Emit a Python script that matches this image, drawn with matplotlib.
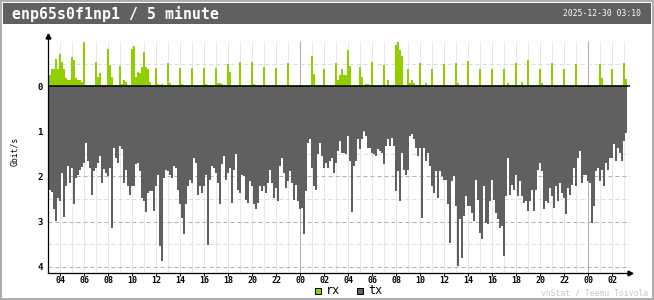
import numpy as np
import matplotlib
matplotlib.use('Agg')
import matplotlib.pyplot as plt
from matplotlib.patches import Rectangle

W, H = 654, 300

title = 'enp65s0f1np1 / 5 minute'
stamp = '2025-12-30 03:10'
credit = 'vnStat / Teemu Toivola'
unit = 'Gbit/s'
legend_names = ['rx', 'tx']

# 10 minute bins, hours counted from midnight two days before the stamp
start_hour = 3 + 5 / 60
bin_hours = 1 / 6

# Gbit/s
rx = [0.24, 0.37, 0.37, 0.61, 0.37, 0.72, 0.54, 0.37, 0.17, 0.13, 0.13, 0.65,
      0.58, 0.17, 0.13, 0.13, 0.10, 0.98, 0.02, 0.02, 0.02, 0.02, 0.02, 0.54,
      0.21, 0.28, 0.02, 0.02, 0.02, 0.83, 0.46, 0.21, 0.02, 0.02, 0.02, 0.44,
      0.04, 0.13, 0.10, 0.02, 0.02, 0.83, 0.89, 0.21, 0.32, 0.30, 0.43, 0.76,
      0.43, 0.39, 0.10, 0.02, 0.02, 0.41, 0.04, 0.02, 0.04, 0.02, 0.02, 0.52,
      0.06, 0.02, 0.02, 0.02, 0.02, 0.41, 0.04, 0.02, 0.02, 0.02, 0.02, 0.41,
      0.02, 0.02, 0.02, 0.02, 0.02, 0.41, 0.04, 0.02, 0.02, 0.02, 0.02, 0.41,
      0.06, 0.07, 0.04, 0.02, 0.02, 0.50, 0.32, 0.02, 0.02, 0.02, 0.02, 0.54,
      0.02, 0.02, 0.02, 0.02, 0.02, 0.54, 0.04, 0.02, 0.02, 0.02, 0.02, 0.43,
      0.02, 0.02, 0.02, 0.02, 0.02, 0.41, 0.02, 0.02, 0.02, 0.02, 0.02, 0.52,
      0.02, 0.02, 0.02, 0.02, 0.02, 0.02, 0.02, 0.02, 0.02, 0.02, 0.02, 0.67,
      0.27, 0.02, 0.02, 0.02, 0.02, 0.39, 0.02, 0.02, 0.02, 0.02, 0.02, 0.52,
      0.13, 0.24, 0.38, 0.24, 0.24, 0.80, 0.44, 0.02, 0.02, 0.02, 0.02, 0.43,
      0.21, 0.02, 0.04, 0.04, 0.02, 0.54, 0.02, 0.02, 0.02, 0.02, 0.02, 0.46,
      0.02, 0.13, 0.02, 0.02, 0.02, 0.91, 0.98, 0.80, 0.66, 0.02, 0.02, 0.39,
      0.06, 0.13, 0.06, 0.02, 0.02, 0.52, 0.02, 0.02, 0.07, 0.02, 0.02, 0.39,
      0.02, 0.02, 0.02, 0.02, 0.02, 0.50, 0.02, 0.02, 0.02, 0.02, 0.02, 0.52,
      0.07, 0.02, 0.02, 0.02, 0.02, 0.55, 0.02, 0.02, 0.02, 0.02, 0.02, 0.39,
      0.02, 0.02, 0.02, 0.02, 0.02, 0.39, 0.02, 0.02, 0.02, 0.02, 0.02, 0.39,
      0.02, 0.06, 0.02, 0.02, 0.02, 0.52, 0.02, 0.02, 0.10, 0.02, 0.02, 0.58,
      0.02, 0.02, 0.02, 0.02, 0.02, 0.39, 0.07, 0.02, 0.02, 0.02, 0.02, 0.52,
      0.02, 0.02, 0.02, 0.02, 0.02, 0.39, 0.02, 0.02, 0.02, 0.02, 0.02, 0.50,
      0.02, 0.02, 0.02, 0.02, 0.02, 0.02, 0.02, 0.02, 0.02, 0.02, 0.02, 0.50,
      0.17, 0.02, 0.02, 0.02, 0.02, 0.39, 0.02, 0.02, 0.02, 0.02, 0.02, 0.52,
      0.15]

tx = [2.30, 2.35, 2.73, 2.99, 2.47, 2.55, 1.92, 2.89, 2.21, 1.77, 2.14, 1.81,
      2.62, 2.03, 1.96, 1.85, 1.79, 1.70, 1.25, 1.66, 1.81, 2.40, 1.88, 1.81,
      1.70, 1.54, 2.14, 1.83, 1.93, 1.99, 1.81, 3.14, 1.37, 1.59, 1.70, 1.33,
      1.40, 2.14, 1.85, 2.21, 2.40, 2.21, 2.21, 1.73, 1.71, 1.88, 2.47, 2.55,
      2.79, 2.36, 2.32, 2.32, 2.77, 2.20, 1.96, 3.54, 3.87, 2.03, 1.85, 1.88,
      1.96, 2.03, 1.77, 1.81, 2.29, 2.62, 2.92, 3.28, 2.62, 2.21, 2.08, 2.14,
      1.59, 1.70, 2.40, 2.21, 2.36, 2.21, 1.96, 3.51, 2.07, 1.77, 1.81, 1.92,
      2.14, 2.62, 1.73, 1.55, 2.07, 1.92, 1.81, 2.58, 1.85, 1.51, 2.29, 2.36,
      1.96, 1.99, 2.51, 2.58, 2.10, 2.21, 2.62, 2.73, 2.58, 2.21, 2.32, 2.21,
      2.36, 2.14, 1.85, 2.14, 2.47, 2.25, 2.55, 1.77, 1.59, 1.92, 2.25, 2.10,
      1.88, 2.14, 2.51, 2.18, 2.55, 2.73, 2.69, 3.28, 2.32, 1.25, 1.18, 1.81,
      2.21, 2.29, 1.51, 1.25, 1.55, 1.81, 1.70, 1.81, 1.66, 1.59, 1.92, 1.70,
      1.44, 1.22, 1.48, 1.48, 1.51, 1.11, 1.66, 2.79, 1.77, 1.66, 1.18, 1.40,
      1.18, 1.00, 1.11, 1.37, 1.37, 1.48, 1.51, 1.55, 1.40, 1.44, 1.48, 1.73,
      1.33, 1.18, 1.33, 1.14, 1.33, 2.32, 1.88, 2.55, 1.48, 1.85, 1.96, 1.85,
      1.11, 1.07, 1.18, 1.37, 1.55, 1.37, 2.92, 1.37, 1.66, 1.48, 1.77, 2.21,
      2.36, 1.88, 2.47, 1.88, 1.99, 2.07, 2.07, 2.62, 3.47, 2.10, 1.99, 2.66,
      3.99, 2.95, 3.80, 2.88, 2.44, 2.66, 2.66, 2.80, 2.99, 2.07, 2.51, 3.25,
      3.39, 2.21, 3.03, 3.06, 2.55, 2.07, 2.51, 2.80, 2.95, 3.14, 3.10, 3.76,
      2.44, 1.59, 2.40, 2.18, 2.29, 1.96, 2.44, 2.10, 2.44, 2.58, 2.55, 2.77,
      2.55, 2.29, 2.77, 2.29, 1.85, 1.70, 1.88, 2.73, 2.55, 2.58, 2.25, 2.44,
      2.69, 2.21, 2.55, 2.14, 2.36, 2.47, 2.84, 2.25, 2.40, 2.18, 1.81, 2.21,
      1.59, 1.44, 2.14, 1.96, 1.96, 2.10, 2.14, 3.03, 2.66, 1.88, 1.81, 2.10,
      1.85, 2.21, 1.70, 1.85, 1.59, 1.59, 1.29, 1.66, 1.37, 1.48, 1.66, 1.22,
      1.03]

hour_ticks = np.arange(4, 51, 2)
y_ticks = [0, 1, 2, 3, 4]

rx_color = '#92cf00'
tx_color = '#606060'
mono = 'DejaVu Sans Mono'


def fx(px):
    return px / W


def fy(py):
    return 1 - py / H


fig = plt.figure(figsize=(W / 100, H / 100), dpi=100)
fig.patch.set_facecolor('white')

# frame and header
fig.add_artist(Rectangle((fx(1), fy(299)), fx(653) - fx(1), fy(1) - fy(299),
                         transform=fig.transFigure, fill=False, ec='#aeaeae', lw=1.44))
fig.add_artist(Rectangle((fx(3), fy(24)), fx(651) - fx(3), fy(3) - fy(24),
                         transform=fig.transFigure, fc='#606060', ec='none'))
fig.text(fx(12), fy(14), title, color='white', family=mono, weight='bold',
         size=10.7, ha='left', va='center')
fig.text(fx(641), fy(14), stamp, color='white', family=mono, size=5.8,
         ha='right', va='center')

ax = fig.add_axes([fx(48), fy(272.7), fx(630) - fx(48), fy(36) - fy(272.7)])
ax.set_facecolor('white')
ax.set_xlim(3.0, 51.5)
ax.set_ylim(-4.13, 1.11)

# hour lines, darker at midnight
hours = np.arange(4, 52)
ax.vlines(hours, -4.13, 1.0, colors=['#aeaeae' if h % 24 == 0 else '#e8e8e8' for h in hours],
          lw=0.72, zorder=1)

for v in [0.5, -0.5, -1, -1.5, -2, -2.5, -3, -3.5, -4]:
    c = '#b0b0b0' if v == int(v) else '#dcdcdc'
    ax.axhline(v, color=c, lw=0.72, linestyle=(0, (4, 3)), zorder=2)

t = start_hour + np.arange(len(tx)) * bin_hours
ax.bar(t, rx, width=bin_hours, align='edge', color=rx_color, lw=0, zorder=3)
ax.bar(t, -np.array(tx), width=bin_hours, align='edge', color=tx_color, lw=0, zorder=3)
ax.axhline(0, color='black', lw=1.1, zorder=4)

for s in ['top', 'right']:
    ax.spines[s].set_visible(False)
for s in ['left', 'bottom']:
    ax.spines[s].set_color('black')
    ax.spines[s].set_linewidth(0.9)
    ax.spines[s].set_zorder(5)

ax.plot([1.0], [0], marker='>', ms=3.5, color='black', transform=ax.transAxes, clip_on=False)
ax.plot([0], [1.0], marker='^', ms=3.5, color='black', transform=ax.transAxes, clip_on=False)

ax.set_xticks(hour_ticks)
ax.set_xticklabels([f'{h % 24:02d}' for h in hour_ticks])
ax.tick_params(axis='x', length=2, width=0.72, pad=0.5, labelsize=6)
ax.set_yticks([-v for v in y_ticks])
ax.set_yticklabels([str(v) for v in y_ticks])
ax.tick_params(axis='y', length=0, pad=4, labelsize=6.5)
for lab in ax.get_xticklabels() + ax.get_yticklabels():
    lab.set_family(mono)
    lab.set_weight('bold')

fig.text(fx(15), fy(151), unit, rotation=90, family=mono, size=5.8,
         ha='center', va='center')

# legend
for x0, name, c in [(315, legend_names[0], rx_color), (357, legend_names[1], tx_color)]:
    fig.add_artist(Rectangle((fx(x0), fy(294)), fx(x0 + 6) - fx(x0), fy(288) - fy(294),
                             transform=fig.transFigure, fc=c, ec='black', lw=0.72))
    fig.text(fx(x0 + 11), fy(290.5), name, family=mono, size=8.5, ha='left', va='center')

fig.text(fx(648), fy(293), credit, color='#c8c8c8', family=mono, size=5.8,
         ha='right', va='center')

fig.savefig('out.png', dpi=100)
